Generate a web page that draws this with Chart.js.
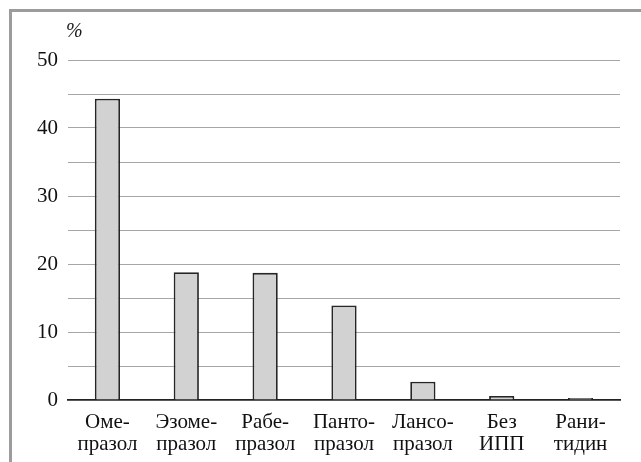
<!DOCTYPE html>
<html>
<head>
<meta charset="utf-8">
<script src="https://cdn.jsdelivr.net/npm/chart.js@4"></script>
<style>
  body { margin: 0; background: #fff; }
  #wrap { position: relative; width: 641px; height: 462px; overflow: hidden; }
  #frame { position: absolute; left: 9px; top: 9px; width: 700px; height: 500px;
           border-left: 3px solid #9c9c9c; border-top: 3px solid #9c9c9c; }
  #chart { position: absolute; left: 0; top: 0; }
</style>
</head>
<body>
<div id="wrap">
  <div id="frame"></div>
  <canvas id="chart" width="641" height="462"></canvas>
</div>
<script>
// categories (two-line labels as in the figure)
const drugs = [
    ['Оме-', 'празол'],
    ['Эзоме-', 'празол'],
    ['Рабе-', 'празол'],
    ['Панто-', 'празол'],
    ['Лансо-', 'празол'],
    ['Без', 'ИПП'],
    ['Рани-', 'тидин']
]
// share of patients, %
const shares = [44.3, 18.8, 18.7, 13.9, 2.7, 0.6, 0.3]
const yMax = 50
const yStep = 5

const serif = '"Liberation Serif", "DejaVu Serif", serif'

// draws the little "%" unit above the axis
const unitLabel = {
    id: 'unitLabel',
    afterDraw(chart) {
        const ctx = chart.ctx
        ctx.save()
        ctx.font = 'italic 20px ' + serif
        ctx.fillStyle = '#1a1a1a'
        ctx.textAlign = 'left'
        ctx.textBaseline = 'middle'
        ctx.fillText('%', chart.chartArea.left - 2, chart.chartArea.top - 28)
        ctx.restore()
    }
}

new Chart(document.querySelector('#chart').getContext('2d'), {
    type: 'bar',
    data: {
        labels: drugs,
        datasets: [{
            data: shares,
            backgroundColor: '#d2d2d2',
            borderColor: '#262626',
            borderWidth: 1.8,
            barPercentage: 0.32,
            categoryPercentage: 1
        }]
    },
    options: {
        responsive: false,
        animation: false,
        layout: { padding: { left: 0, right: 21, top: 60, bottom: 0 } },
        plugins: { legend: { display: false }, tooltip: { enabled: false } },
        scales: {
            x: {
                grid: { display: false },
                border: { display: true, color: '#222', width: 1.8 },
                ticks: {
                    color: '#111',
                    font: { family: serif, size: 21, lineHeight: 1.05 },
                    padding: 3,
                    maxRotation: 0,
                    autoSkip: false
                },
                afterFit(scale) { scale.height = 62 }
            },
            y: {
                min: 0,
                max: yMax,
                border: { display: false },
                grid: {
                    color: ctx => ctx.tick.value === 0 ? 'rgba(0,0,0,0)' : '#a6a6a6',
                    lineWidth: 1,
                    drawTicks: false
                },
                ticks: {
                    stepSize: yStep,
                    autoSkip: false,
                    color: '#111',
                    padding: 10,
                    font: { family: serif, size: 21 },
                    callback: v => v % 10 === 0 ? v : ''
                },
                afterFit(scale) { scale.width = 68 }
            }
        }
    },
    plugins: [unitLabel]
})
</script>
</body>
</html>
